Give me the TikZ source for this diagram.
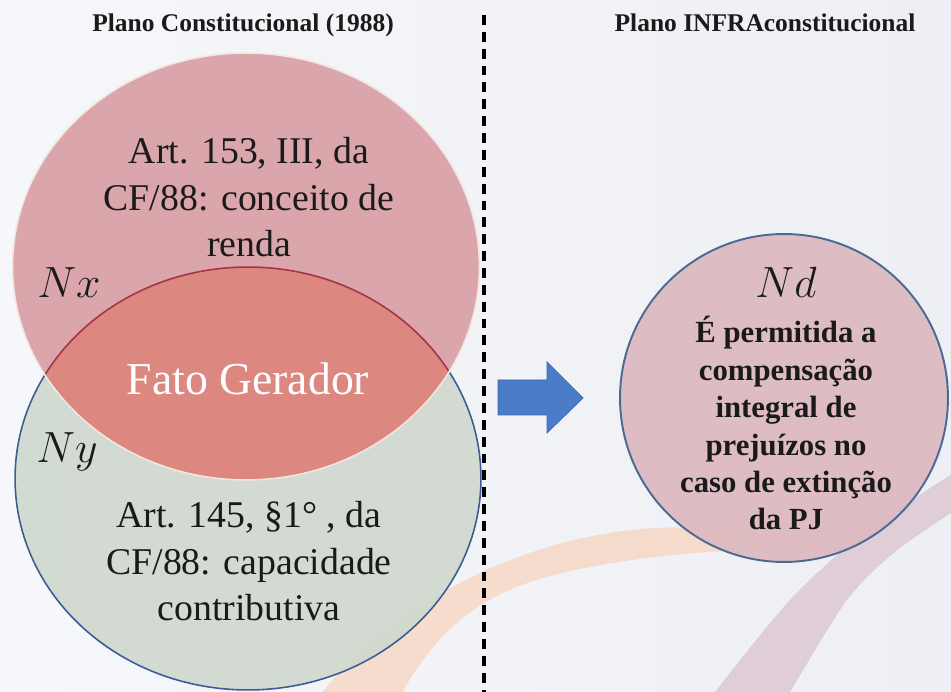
\documentclass[tikz,border=0pt]{standalone}
\usepackage{fontspec}
\setmainfont{Liberation Serif}
\definecolor{bgL}{HTML}{F6F7FA}
\definecolor{bgR}{HTML}{EDEFF4}
\definecolor{peach}{HTML}{F6D8C5}
\definecolor{mauve}{HTML}{DFCDD7}
\definecolor{nxfill}{HTML}{DAA6AB}
\definecolor{nxedge}{HTML}{F3E6E0}
\definecolor{nyfill}{HTML}{CFD8CD}
\definecolor{nyedge}{HTML}{3C5C94}
\definecolor{lensfill}{HTML}{DC877F}
\definecolor{lensedge}{HTML}{A8324A}
\definecolor{ndfill}{HTML}{DCB8BE}
\definecolor{ndedge}{HTML}{4A6A94}
\definecolor{arrowblue}{HTML}{4A7CC9}
\definecolor{arrowedge}{HTML}{3A66B0}
\definecolor{txt}{HTML}{1A1A1A}
\tikzset{
  titletext/.style={font=\fontsize{14.5}{17}\selectfont\bfseries, text=txt, inner sep=0pt, anchor=base},
  bodytext/.style={font=\fontsize{21.5}{26.7}\selectfont, text=txt, align=center, inner sep=0pt, anchor=base},
  ndtext/.style={font=\fontsize{17.5}{21.3}\selectfont\bfseries, text=txt, align=center, inner sep=0pt, anchor=base},
  labeltext/.style={font=\fontsize{26}{30}\selectfont, text=txt, inner sep=0pt, anchor=base},
  divider/.style={draw=black, line width=1.8pt, dash pattern=on 5.6pt off 4pt},
  nxshape/.style={insert path={(246,266.5) ellipse[x radius=4.67cm, y radius=4.27cm]}},
  nyshape/.style={insert path={(248,478.5) ellipse[x radius=4.66cm, y radius=4.23cm]}},
}
\begin{document}
\begin{tikzpicture}[x=0.02cm,y=-0.02cm]
\useasboundingbox (0,0) rectangle (951,692);
\begin{scope}
  \clip (0,0) rectangle (951,692);
  \shade[left color=bgL, right color=bgR] (0,0) rectangle (951,692);
  % background bands
  \fill[peach, opacity=0.85] (316,700) .. controls (400,590) and (560,520) .. (700,528)
     .. controls (760,531) and (800,538) .. (835,550)
     .. controls (760,546) and (620,553) .. (530,582)
     .. controls (470,602) and (430,640) .. (398,700) -- cycle;
  \fill[mauve] plot[smooth] coordinates {(706,705) (715,692) (790,600) (865,532) (960,469)}
     -- plot[smooth] coordinates {(960,508) (951,513) (895,552) (847,600) (790,692) (783,705)} -- cycle;
\end{scope}

% Ny circle
\path[fill=nyfill, fill opacity=0.9, draw=nyedge, line width=0.9pt, nyshape];
% Nx circle
\path[fill=nxfill, nxshape];
% lens
\begin{scope}
  \clip[nyshape];
  \fill[lensfill, nxshape];
\end{scope}
\begin{scope}
  \clip[nxshape];
  \draw[lensedge, line width=0.9pt, nyshape];
\end{scope}
\draw[nxedge, line width=0.9pt, nxshape];

% Nd circle
\path[fill=ndfill, fill opacity=0.9, draw=ndedge, line width=1.1pt] (784,398) circle[radius=3.28cm];

% divider
\coordinate (divtop) at (484,15);
\coordinate (divbot) at (484,700);
\draw[divider] (divtop) -- (divbot);

% arrow
\fill[arrowblue, draw=arrowedge, line width=0.4pt] (498,380) -- (547,380) -- (547,362) -- (583,398)
   -- (547,433) -- (547,415) -- (498,415) -- cycle;

% titles
\node[titletext] (t1) at (243,32) {Plano Constitucional (1988)};
\node[titletext] (t2) at (765,32) {Plano INFRAconstitucional};

% texts
\node[bodytext] (nxtext) at (249,257) {Art. 153, III, da\\CF/88: conceito de\\renda};
\node[bodytext] (nytext) at (249,621) {Art. 145, §1° , da\\CF/88: capacidade\\contributiva};
\node[font=\fontsize{26}{30}\selectfont, text=white, inner sep=0pt, anchor=base] (fg) at (248,395) {Fato Gerador};
\node[labeltext] (nx) at (69,298) {$Nx$};
\node[labeltext] (ny) at (67,463) {$Ny$};
\node[labeltext] (nd) at (786,298) {$Nd$};
\node[ndtext] (ndtxt) at (786,530) {É permitida a\\compensação\\integral de\\prejuízos no\\caso de extinção\\da PJ};
\end{tikzpicture}
\end{document}
